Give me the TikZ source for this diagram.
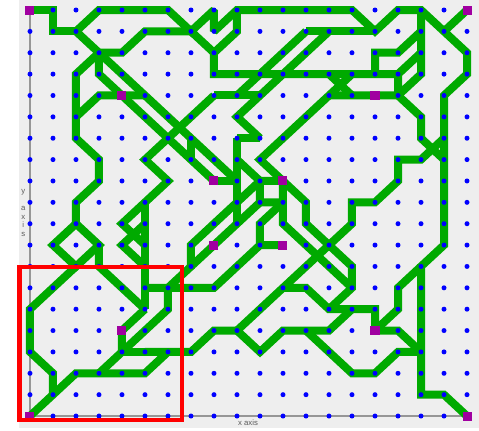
\documentclass[tikz,border=0pt]{standalone}
\usepackage{fontspec}
\setsansfont{Liberation Sans}
\definecolor{pathgreen}{RGB}{0,170,0}
\definecolor{gridblue}{RGB}{0,0,255}
\definecolor{termpurple}{RGB}{160,0,160}
\definecolor{panelgrey}{RGB}{238,238,238}
\definecolor{axisgrey}{RGB}{150,150,150}
\definecolor{labelgrey}{RGB}{90,90,90}
\tikzset{
  route/.style={draw=pathgreen, line width=0.2cm, line join=miter, miter limit=2, line cap=butt},
  axislabel/.style={font=\sffamily\fontsize{5.5}{6}\selectfont, text=labelgrey, inner sep=0pt, align=center},
}
\begin{document}
\begin{tikzpicture}[x=0.575cm, y=-0.53425cm]
\useasboundingbox (-1.3043,-0.468) rectangle (19.522,19.70);
\fill[panelgrey] (-0.478,-0.468) rectangle (19.522,19.56);
\draw[axisgrey, line width=0.04cm] (0,0) -- (0,19) -- (19,19);

% top band
\draw[route] (0,0) -- (1,0) -- (1,1) -- (2,1);
\draw[route] (2,1) -- (3,0) -- (6,0) -- (7,1) -- (8,0) -- (8,1) -- (9,0) -- (14,0) -- (15,1) -- (16,0) -- (17,0) -- (18,1) -- (19,2) -- (19,3) -- (18,4) -- (18,11) -- (17,12) -- (17,18) -- (18,18) -- (19,19);
\draw[route] (19,0) -- (18,1);
\draw[route] (17,0) -- (17,3) -- (16,4) -- (16,3) -- (17,2);
\draw[route] (17,1) -- (16,2) -- (15,2) -- (15,3);
\draw[route] (9,0) -- (9,1) -- (8,2) -- (8,3) -- (16,3);
\draw[route] (2,1) -- (3,2) -- (4,2) -- (5,1) -- (7,1) -- (8,2);
\draw[route] (12,1) -- (15,1);

% left side
\draw[route] (3,2) -- (2,3) -- (2,6) -- (3,7) -- (3,8) -- (2,9) -- (2,10);
\draw[route] (2,10) -- (1,11) -- (2,12) -- (3,11) -- (2,10);
\draw[route] (3,2) -- (3,3) -- (8,8);
\draw[route] (3,2) -- (9,8);
\draw[route] (7,6) -- (7,7);
\draw[route] (2,5) -- (3,4) -- (5,4);
\draw[route] (8,4) -- (5,7) -- (6,8) -- (5,9) -- (4,10) -- (5,11);
\draw[route] (5,10) -- (4,11) -- (5,12);
\draw[route] (5,9) -- (5,14);

% centre
\draw[route] (12,1) -- (9,4);
\draw[route] (13,1) -- (9,5) -- (10,6);
\draw[route] (8,4) -- (10,4);
\draw[route] (9,6) -- (10,6);
\draw[route] (9,6) -- (9,10);
\draw[route] (8,8) -- (9,8);
\draw[route] (9,7) -- (10,8) -- (10,9) -- (11,9);
\draw[route] (11,9) -- (10,10) -- (10,11);
\draw[route] (6,13) -- (7,12) -- (7,11) -- (10,8);
\draw[route] (7,12) -- (10,9);
\draw[route] (5,13) -- (8,13) -- (9,12) -- (10,11) -- (11,11);

% right side
\draw[route] (13,3) -- (14,4);
\draw[route] (14,3) -- (13,4);
\draw[route] (13,4) -- (16,4) -- (17,5) -- (17,6) -- (18,7);
\draw[route] (18,6) -- (17,7) -- (16,7) -- (16,8) -- (15,9) -- (14,9) -- (14,10) -- (9,15) -- (10,16) -- (11,15) -- (13,15) -- (14,14);
\draw[route] (13,4) -- (10,7) -- (11,8) -- (12,9) -- (12,10) -- (14,12) -- (14,13) -- (13,14);
\draw[route] (10,8) -- (11,8) -- (11,10) -- (14,13);
\draw[route] (11,13) -- (12,13) -- (13,14) -- (15,14) -- (15,15) -- (16,15) -- (17,16);
\draw[route] (17,12) -- (16,13) -- (16,14) -- (15,15);
\draw[route] (12,15) -- (13,16) -- (14,17) -- (15,17) -- (16,16) -- (17,16);

% bottom left
\draw[route] (5,16) -- (7,16) -- (8,15) -- (9,15);
\draw[route] (2,12) -- (0,14) -- (0,16) -- (1,17) -- (1,18);
\draw[route] (0,19) -- (2,17) -- (5,17) -- (6,16);
\draw[route] (3,17) -- (4,16) -- (4,15) -- (5,14);
\draw[route] (4,16) -- (6,14) -- (6,13);
\draw[route] (4,16) -- (5,16);
\draw[route] (3,11) -- (3,12) -- (5,14);

% grid points
\foreach \c in {0,...,19}
  \foreach \j in {0,...,19}
    \fill[gridblue] (\c,\j) circle (0.0625cm);

% terminals
\foreach \c/\j in {0/0,19/0,0/19,19/19,4/4,15/4,4/15,15/15,8/8,11/8,8/11,11/11}
  \fill[termpurple] (\c,\j) +(-0.1125cm,-0.1125cm) rectangle +(0.1125cm,0.1125cm);

\draw[red, line width=0.115cm] (-0.457,12.03) rectangle (6.61,19.19);

\node[axislabel] (xlab) at (9.48,19.33) {x axis};
\node[axislabel] (ylab) at (-0.29,9.5) {y\\[6pt]a\\x\\i\\s};
\end{tikzpicture}
\end{document}
